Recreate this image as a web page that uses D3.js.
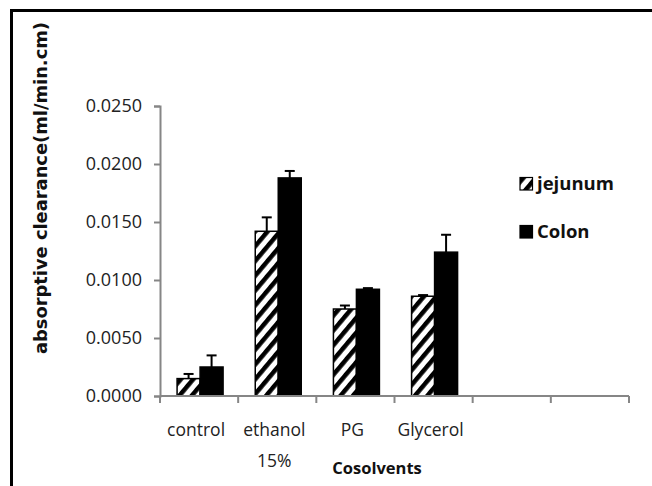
<!DOCTYPE html>
<html>
<head>
<meta charset="utf-8">
<script src="https://cdn.jsdelivr.net/npm/d3@7"></script>
<style>
html,body{margin:0;padding:0;background:#fff;}
svg{display:block;}
</style>
</head>
<body>
<div id="chart"></div>
<script>
const categories = ["control", "ethanol\n15%", "PG", "Glycerol", "", ""];
const seriesNames = ["jejunum", "Colon"];
const jejunum = [0.0015, 0.0142, 0.0075, 0.0086, null, null];
const jejunumErr = [0.0004, 0.0012, 0.0003, 0.0001, null, null];
const colon = [0.0025, 0.0188, 0.0092, 0.0124, null, null];
const colonErr = [0.0010, 0.0006, 0.0001, 0.0015, null, null];
const yTicks = [0, 0.005, 0.01, 0.015, 0.02, 0.025];

const W = 652, H = 486;
const svg = d3.select("#chart").append("svg").attr("width", W).attr("height", H);

// hatch pattern
const defs = svg.append("defs");
const pat = defs.append("pattern").attr("id", "hatch")
  .attr("patternUnits", "userSpaceOnUse").attr("width", 9.5).attr("height", 9.5)
  .attr("patternTransform", "rotate(40)");
pat.append("rect").attr("width", 9.5).attr("height", 9.5).attr("fill", "#fff");
pat.append("rect").attr("x", 0).attr("width", 4.5).attr("height", 9.5).attr("fill", "#000");

// frame
svg.append("path").attr("d", "M11.5,700 L11.5,10.5 L700,10.5")
  .attr("fill", "none").attr("stroke", "#000").attr("stroke-width", 3);

const x0 = d3.scaleBand().domain(d3.range(categories.length)).range([160, 629]).padding(0);
const x1 = d3.scaleBand().domain(seriesNames).range([0, 46]);
const y = d3.scaleLinear().domain([0, 0.025]).range([396, 106]);

const axisColor = "#868686";

// y axis
const yAxis = svg.append("g").attr("transform", "translate(160,0)")
  .call(d3.axisLeft(y).tickValues(yTicks).tickFormat(d3.format(".4f")).tickSize(6).tickPadding(12));
yAxis.select(".domain").attr("stroke", axisColor).attr("stroke-width", 2);
yAxis.selectAll(".tick line").attr("stroke", axisColor).attr("stroke-width", 2);
yAxis.selectAll(".tick text").attr("font-family", "'Open Sans', sans-serif").attr("font-size", 18)
  .attr("fill", "#222");

// bars
const data = [jejunum, colon];
const errs = [jejunumErr, colonErr];
seriesNames.forEach((s, si) => {
  const g = svg.append("g");
  const idx = d3.range(categories.length).filter(i => data[si][i] != null);
  const bx = i => x0(i) + (x0.bandwidth() - 46) / 2 + 1 + x1(s);
  g.selectAll("rect").data(idx).join("rect")
    .attr("x", i => bx(i))
    .attr("y", i => y(data[si][i]))
    .attr("width", x1.bandwidth())
    .attr("height", i => y(0) - y(data[si][i]))
    .attr("fill", si === 0 ? "url(#hatch)" : "#000")
    .attr("stroke", "#000").attr("stroke-width", 1.5);
  const cx = i => bx(i) + x1.bandwidth() / 2;
  g.selectAll("line.err").data(idx).join("line").attr("class", "err")
    .attr("x1", cx).attr("x2", cx)
    .attr("y1", i => y(data[si][i])).attr("y2", i => y(data[si][i] + errs[si][i]))
    .attr("stroke", "#000").attr("stroke-width", 2);
  g.selectAll("line.cap").data(idx).join("line").attr("class", "cap")
    .attr("x1", i => cx(i) - 5).attr("x2", i => cx(i) + 5)
    .attr("y1", i => y(data[si][i] + errs[si][i])).attr("y2", i => y(data[si][i] + errs[si][i]))
    .attr("stroke", "#000").attr("stroke-width", 2);
});

// x axis
const xAxis = svg.append("g").attr("transform", "translate(0,396)");
xAxis.append("line").attr("x1", 160).attr("x2", 629).attr("stroke", axisColor).attr("stroke-width", 2);
const bounds = d3.range(categories.length + 1).map(i => i < categories.length ? x0(i) : x0.range()[1]);
xAxis.selectAll("line.tk").data(bounds).join("line").attr("class", "tk")
  .attr("x1", d => d).attr("x2", d => d).attr("y1", 0).attr("y2", 7)
  .attr("stroke", axisColor).attr("stroke-width", 2);
categories.forEach((c, i) => {
  const lines = c.split("\n");
  const t = xAxis.append("text").attr("text-anchor", "middle")
    .attr("font-family", "'Open Sans', sans-serif").attr("font-size", 17.5).attr("fill", "#222");
  lines.forEach((l, li) => {
    t.append("tspan").attr("x", x0(i) + x0.bandwidth() / 2 - 3).attr("y", 40 + li * 31).text(l);
  });
});

// axis titles
svg.append("text").attr("x", 377).attr("y", 474).attr("text-anchor", "middle")
  .attr("font-family", "'Open Sans', sans-serif").attr("font-weight", "bold").attr("font-size", 16.5)
  .attr("fill", "#111").text("Cosolvents");

svg.append("text").attr("transform", "translate(47,188) rotate(-90)").attr("text-anchor", "middle")
  .attr("font-family", "'DejaVu Sans', sans-serif").attr("font-weight", "bold").attr("font-size", 17)
  .attr("textLength", 332).attr("lengthAdjust", "spacingAndGlyphs")
  .attr("fill", "#111").text("absorptive clearance(ml/min.cm)");

// legend
const leg = svg.append("g");
const legY = [190, 238];
seriesNames.forEach((s, si) => {
  leg.append("rect").attr("x", 520).attr("y", legY[si] - 12.5).attr("width", 12.5).attr("height", 12.5)
    .attr("fill", si === 0 ? "url(#hatch)" : "#000").attr("stroke", "#000").attr("stroke-width", 1.2);
  leg.append("text").attr("x", 537).attr("y", legY[si])
    .attr("font-family", "'Open Sans', sans-serif").attr("font-weight", "bold").attr("font-size", 18.5)
    .attr("fill", "#111").text(s);
});
</script>
</body>
</html>
